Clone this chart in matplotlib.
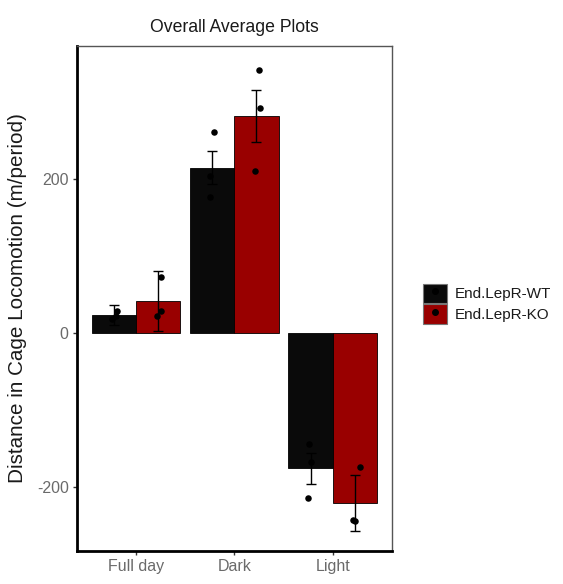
import matplotlib
matplotlib.use("Agg")
import matplotlib.pyplot as plt
import numpy as np
from matplotlib.lines import Line2D
from matplotlib.patches import Patch

plt.rcParams['font.family'] = ['Liberation Sans', 'DejaVu Sans']
plt.rcParams['axes.unicode_minus'] = False

categories = ["Full day", "Dark", "Light"]
groups = ["End.LepR-WT", "End.LepR-KO"]
colors = ["#0a0a0a", "#990000"]
means = {
    "End.LepR-WT": [23, 215, -176],
    "End.LepR-KO": [41, 282, -221],
}
sems = {
    "End.LepR-WT": [13, 21, 20],
    "End.LepR-KO": [39, 34, 36],
}
points = {
    "End.LepR-WT": [[28, 22, 18], [261, 204, 177], [-144, -168, -215]],
    "End.LepR-KO": [[73, 29, 22], [342, 293, 210], [-174, -243, -245]],
}
jitter = {
    "End.LepR-WT": [[0.03, 0.02, -0.02], [0.02, -0.02, -0.02], [-0.02, 0.0, -0.03]],
    "End.LepR-KO": [[0.03, 0.03, -0.01], [0.03, 0.04, -0.02], [0.05, -0.02, 0.0]],
}

fig = plt.figure(figsize=(5.63, 5.84), dpi=100)
ax = fig.add_axes([0.1368, 0.057, 0.6957 - 0.1368, 0.9212 - 0.057])

x = np.arange(1, len(categories) + 1)
w = 0.45
for i, g in enumerate(groups):
    xs = x + (i - 0.5) * w
    ax.bar(xs, means[g], width=w, color=colors[i], edgecolor="black", linewidth=0.6, zorder=2)
    ax.errorbar(xs, means[g], yerr=sems[g], fmt="none", ecolor="black", elinewidth=1.0,
                capsize=3.6, capthick=1.0, zorder=3)
    for j in range(len(categories)):
        px = xs[j] + np.array(jitter[g][j])
        ax.scatter(px, points[g][j], s=22, color="black", zorder=4, linewidths=0)

ax.set_xlim(0.4, 3.6)
ax.set_ylim(-283, 373)
ax.set_xticks(x)
ax.set_xticklabels(categories)
ax.set_yticks([-200, 0, 200])
ax.tick_params(axis="both", colors="#333333", labelsize=11.5, length=3, width=1, pad=3)
for lab in ax.get_xticklabels() + ax.get_yticklabels():
    lab.set_color("#6a6a6a")

for s in ["top", "right"]:
    ax.spines[s].set_color("#555555")
    ax.spines[s].set_linewidth(1.0)
for s in ["left", "bottom"]:
    ax.spines[s].set_color("black")
    ax.spines[s].set_linewidth(2.0)

ax.set_ylabel("Distance in Cage Locomotion (m/period)", fontsize=14.9, color="#1a1a1a")
ax.yaxis.set_label_coords(-0.159, 0.5)
ax.set_title("Overall Average Plots", fontsize=12.7, pad=10, color="#1a1a1a")

handles = []
for i, g in enumerate(groups):
    handles.append((Patch(facecolor=colors[i], edgecolor="#777777", linewidth=0.8),
                    Line2D([], [], marker="o", color="black", linestyle="none", markersize=4)))
leg = fig.legend(handles, groups, loc="center left", bbox_to_anchor=(0.751, 0.480),
                 frameon=False, fontsize=11, handlelength=1.57, handleheight=1.57,
                 handletextpad=0.55, labelspacing=0.1, borderpad=0, borderaxespad=0)
for t in leg.get_texts():
    t.set_color("#1a1a1a")

fig.savefig("out.png", dpi=100)
